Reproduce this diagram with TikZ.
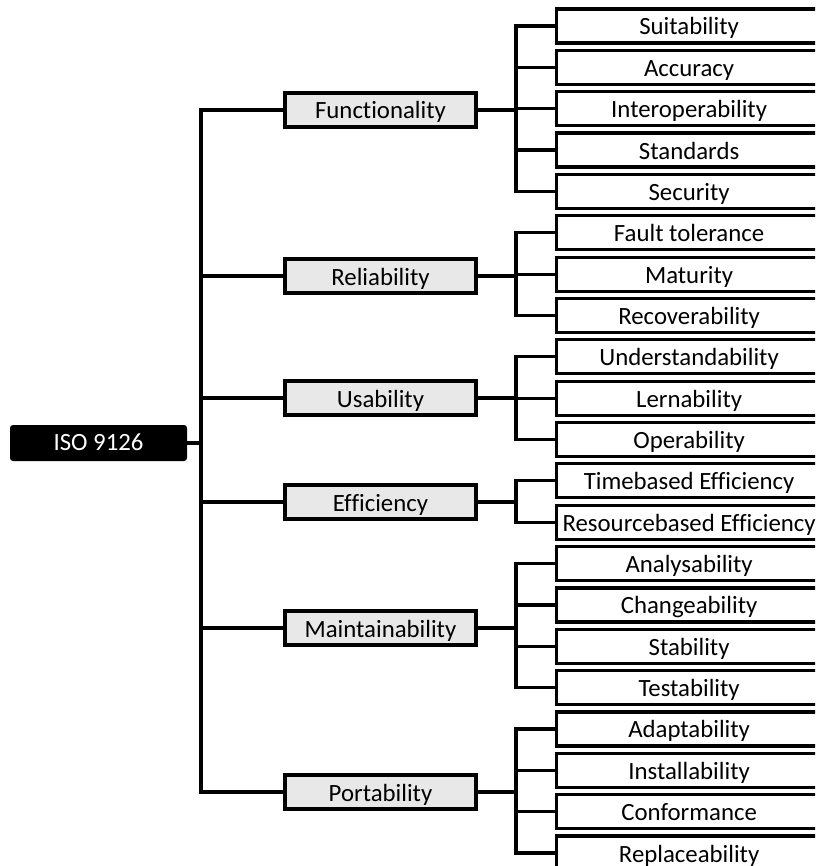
\documentclass[tikz,border=0pt]{standalone}
\usepackage{fontspec}
\setmainfont{Carlito}[Ligatures=NoCommon]
\definecolor{catgrey}{HTML}{E8E8E8}
\begin{document}
\begin{tikzpicture}[x=0.5pt,y=-0.5pt,
  every node/.style={inner sep=0pt, text height=9pt, text depth=0pt, font=\fontsize{12.4pt}{14pt}\selectfont},
  rootbox/.style={fill=black, text=white, rounded corners=1.5pt, minimum width=88.5pt, minimum height=18pt, text height=7pt},
  catbox/.style={draw=black, fill=catgrey, line width=1.6pt, minimum width=95.5pt, minimum height=17pt},
  leafbox/.style={draw=black, fill=white, line width=1.6pt, minimum width=132.5pt, minimum height=17pt, anchor=west},
  conn/.style={draw=black, line width=1.6pt, line cap=rect}]
\clip (0,0) rectangle (815,866);
\useasboundingbox (0,0) rectangle (815,866);

\node[rootbox] (root) at (98.5,443) {ISO 9126\hspace{8.5pt}};

\node[catbox] (fun) at (380.5,110) {Functionality};
\node[catbox] (rel) at (380.5,276) {Reliability};
\node[catbox] (usa) at (380.5,398) {Usability};
\node[catbox] (eff) at (380.5,502) {Efficiency};
\node[catbox] (mai) at (380.5,628) {Maintainability};
\node[catbox] (por) at (380.5,792) {Portability};

\foreach \n/\t [count=\i from 0] in {
  l0/Suitability, l1/Accuracy, l2/Interoperability, l3/Standards, l4/Security,
  l5/Fault tolerance, l6/Maturity, l7/Recoverability,
  l8/Understandability, l9/Lernability, l10/Operability,
  l11/Timebased Efficiency, l12/Resourcebased Efficiency,
  l13/Analysability, l14/Changeability, l15/Stability, l16/Testability,
  l17/Adaptability, l18/Installability, l19/Conformance, l20/Replaceability}
  \node[leafbox] (\n) at (555,26+41.35*\i) {\t};

\coordinate (tr) at (201,0);
\coordinate (br) at (516,0);

% trunk
\draw[conn] (root.east) -- (root.east -| tr);
\draw[conn] (fun.west -| tr) -- (por.west -| tr);
\foreach \c in {fun,rel,usa,eff,mai,por}
  \draw[conn] (\c.west) -- (\c.west -| tr);

% branches
\foreach \c/\a/\b in {fun/l0/l4, rel/l5/l7, usa/l8/l10, eff/l11/l12, mai/l13/l16, por/l17/l20} {
  \draw[conn] (\c.east) -- (\c.east -| br);
  \draw[conn] (\a.west -| br) -- (\b.west -| br);
}
\foreach \n in {l0,l1,l2,l3,l4,l5,l6,l7,l8,l9,l10,l11,l12,l13,l14,l15,l16,l17,l18,l19,l20}
  \draw[conn] (\n.west) -- (\n.west -| br);
\end{tikzpicture}
\end{document}
